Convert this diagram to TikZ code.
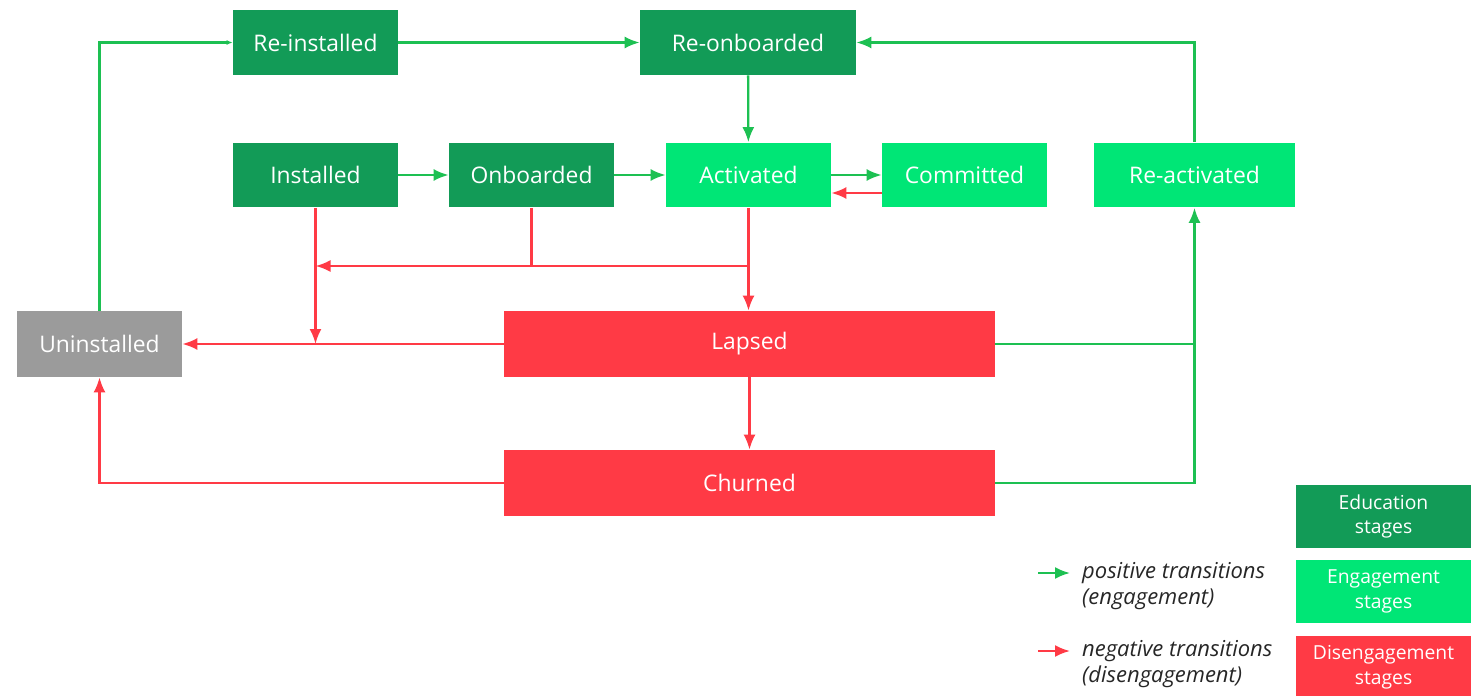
\documentclass[tikz,border=0pt]{standalone}
\usepackage{fontspec}
\setmainfont{Open Sans}
\usetikzlibrary{arrows.meta}

\definecolor{edugreen}{HTML}{129B57}
\definecolor{enggreen}{HTML}{00E676}
\definecolor{disred}{HTML}{FF3A45}
\definecolor{uninstgray}{HTML}{9B9B9B}
\definecolor{posgreen}{HTML}{1DC052}
\definecolor{negred}{HTML}{FF3A45}

\tikzset{
    stage/.style={minimum width=3.3cm, minimum height=1.3cm, inner sep=0pt,
        text=white, font=\fontsize{13}{15}\selectfont},
    edu/.style={stage, fill=edugreen},
    eng/.style={stage, fill=enggreen},
    dis/.style={stage, fill=disred, minimum width=9.82cm},
    legbox/.style={minimum width=3.5cm, minimum height=1.26cm, inner sep=0pt,
        text=white, align=center, font=\fontsize{11}{14}\selectfont},
    posline/.style={draw=posgreen, line width=1.3pt},
    negline/.style={draw=negred, line width=1.3pt},
    posarrow/.style={posline, -{Latex[length=0.3cm, width=0.24cm]}},
    negarrow/.style={negline, -{Latex[length=0.3cm, width=0.24cm]}},
    legtext/.style={anchor=west, align=left, text=black!85,
        font=\fontsize{12.5}{15}\selectfont\itshape},
}

\begin{document}
\begin{tikzpicture}[x=0.02cm, y=-0.02cm]
    \useasboundingbox (0,0) rectangle (1471,696);

    % stages
    \node[edu] (reinst) at (315.5,42.5) {Re-installed};
    \node[edu, minimum width=4.32cm] (reonb) at (748,42.5) {Re-onboarded};
    \node[edu] (inst) at (315.5,175) {Installed};
    \node[edu] (onb) at (531.5,175) {Onboarded};
    \node[eng] (act) at (748.5,175) {Activated};
    \node[eng] (comm) at (964.5,175) {Committed};
    \node[eng, minimum width=4.02cm] (react) at (1194.5,175) {Re-activated};
    \node[stage, fill=uninstgray, minimum height=1.32cm] (uninst) at (99.5,344) {Uninstalled};
    \node[dis, minimum height=1.32cm] (lapsed) at (749.5,344) {Lapsed};
    \node[dis, minimum height=1.32cm] (churned) at (749.5,483) {Churned};

    % positive transitions
    \draw[posline, -{Latex[length=0.12cm, width=0.1cm]}] (uninst.north) |- (reinst.west);
    \draw[posarrow] (reinst) -- (reonb);
    \draw[posarrow] (react.north) |- (reonb.east);
    \draw[posarrow] (reonb) -- (act);
    \draw[posarrow] (inst) -- (onb);
    \draw[posarrow] (onb) -- (act);
    \draw[posarrow] (act) -- (comm);
    \draw[posarrow] (lapsed.east) -| (react.south);
    \draw[posline] (churned.east) -| (react.south |- lapsed.east);

    % negative transitions
    \draw[negarrow] ([yshift=-0.36cm]comm.west) -- ([yshift=-0.36cm]act.east);
    \coordinate (split) at (748.5,266);
    \draw[negarrow] (act.south) -- (act.south |- lapsed.north);
    \draw[negline] (onb.south) -- (onb.south |- split);
    \draw[negarrow] (split) -- (inst.south |- split);
    \draw[negarrow] (inst.south) -- (inst.south |- lapsed.west);
    \draw[negarrow] (lapsed.west) -- (uninst.east);
    \draw[negarrow] (lapsed) -- (churned);
    \draw[negarrow] (churned.west) -| (uninst.south);

    % legend
    \coordinate (posa) at (1038,573);
    \coordinate (nega) at (1038,651);
    \draw[posarrow] (posa) -- ++(32,0);
    \draw[negarrow] (nega) -- ++(32,0);
    \node[legtext] (postext) at (1076,586) {positive transitions\\(engagement)};
    \node[legtext] (negtext) at (1076,664) {negative transitions\\(disengagement)};
    \node[legbox, fill=edugreen] (legedu) at (1383.5,516.5) {Education\\stages};
    \node[legbox, fill=enggreen] (legeng) at (1383.5,591.5) {Engagement\\stages};
    \node[legbox, fill=disred] (legdis) at (1383.5,667.5) {Disengagement\\stages};
\end{tikzpicture}
\end{document}
